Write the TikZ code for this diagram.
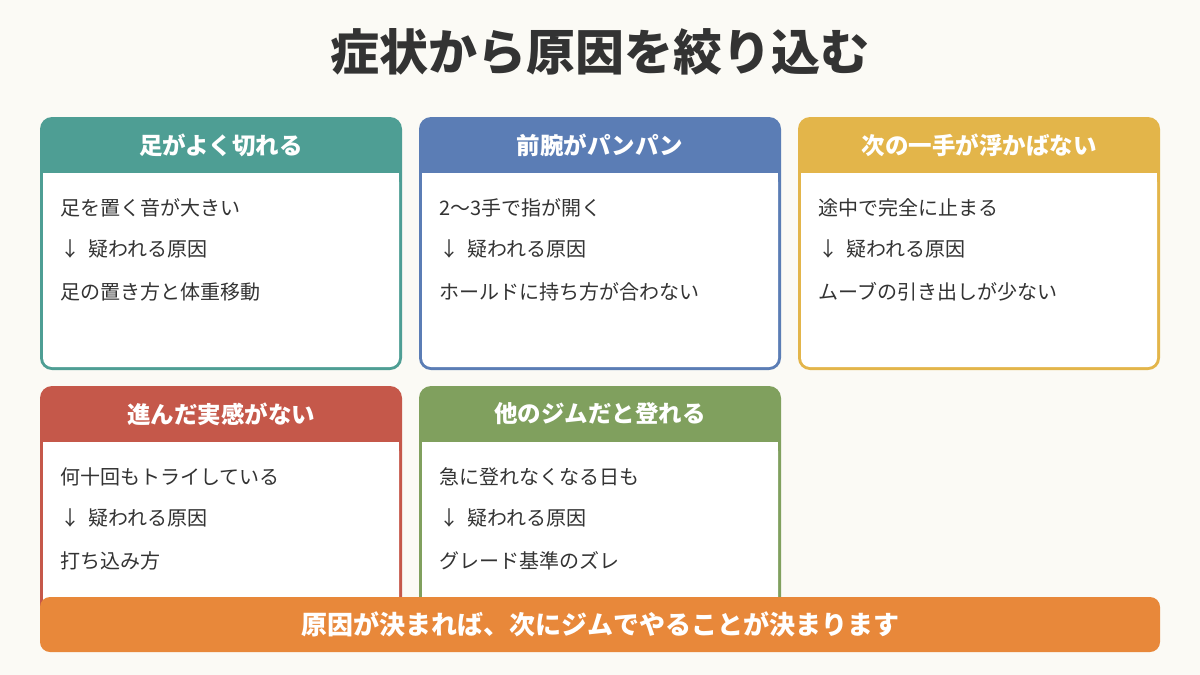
\documentclass[tikz,border=0pt]{standalone}
\usepackage{fontspec}
\setmainfont{Noto Sans CJK JP}
\usetikzlibrary{positioning}
\definecolor{bg}{HTML}{FBFAF5}
\definecolor{ink}{HTML}{333333}
\definecolor{cteal}{HTML}{4E9E94}
\definecolor{cblue}{HTML}{5B7DB5}
\definecolor{cyel}{HTML}{E3B54A}
\definecolor{cred}{HTML}{C5584A}
\definecolor{cgreen}{HTML}{80A05E}
\definecolor{corange}{HTML}{E8883A}
\tikzset{
 head/.style={text=white,font=\fontsize{23.5}{28}\selectfont\bfseries,anchor=center},
 line/.style={text=ink,font=\fontsize{20}{24}\selectfont,anchor=west,inner sep=0pt},
}
\newcommand{\mycard}[8]{% name x y color title l1 l3 bottom
 \fill[#4,rounded corners=12pt] (#2,#3) rectangle ++(362,#8);
 \fill[white,rounded corners=9pt] (#2+3,#3+56) rectangle ++(356,#8-59);
 \fill[white] (#2+3,#3+56) rectangle ++(356,20);
 \node[head] (#1h) at (#2+181,#3+28) {#5};
 \node[line] (#1a) at (#2+20,#3+91) {#6};
 \node[line] (#1b) at (#2+20,#3+132) {↓\hspace{8pt}疑われる原因};
 \node[line] (#1c) at (#2+20,#3+175) {#7};
}
\begin{document}
\begin{tikzpicture}[x=1pt,y=-1pt]
\fill[bg] (0,0) rectangle (1200,675);
\useasboundingbox (0,0) rectangle (1200,675);
\node[text=ink,font=\fontsize{49}{56}\selectfont\bfseries] (title) at (600,52) {症状から原因を絞り込む};
\mycard{a}{40}{117}{cteal}{足がよく切れる}{足を置く音が大きい}{足の置き方と体重移動}{253}
\mycard{b}{419}{117}{cblue}{前腕がパンパン}{2〜3手で指が開く}{ホールドに持ち方が合わない}{253}
\mycard{c}{798}{117}{cyel}{次の一手が浮かばない}{途中で完全に止まる}{ムーブの引き出しが少ない}{253}
\mycard{d}{40}{386}{cred}{進んだ実感がない}{何十回もトライしている}{打ち込み方}{240}
\mycard{e}{419}{386}{cgreen}{他のジムだと登れる}{急に登れなくなる日も}{グレード基準のズレ}{240}
\fill[corange,rounded corners=10pt] (40,597) rectangle (1160,652);
\node[text=white,font=\fontsize{26}{30}\selectfont\bfseries] (banner) at (600,624) {原因が決まれば、次にジムでやることが決まります};
\end{tikzpicture}
\end{document}
